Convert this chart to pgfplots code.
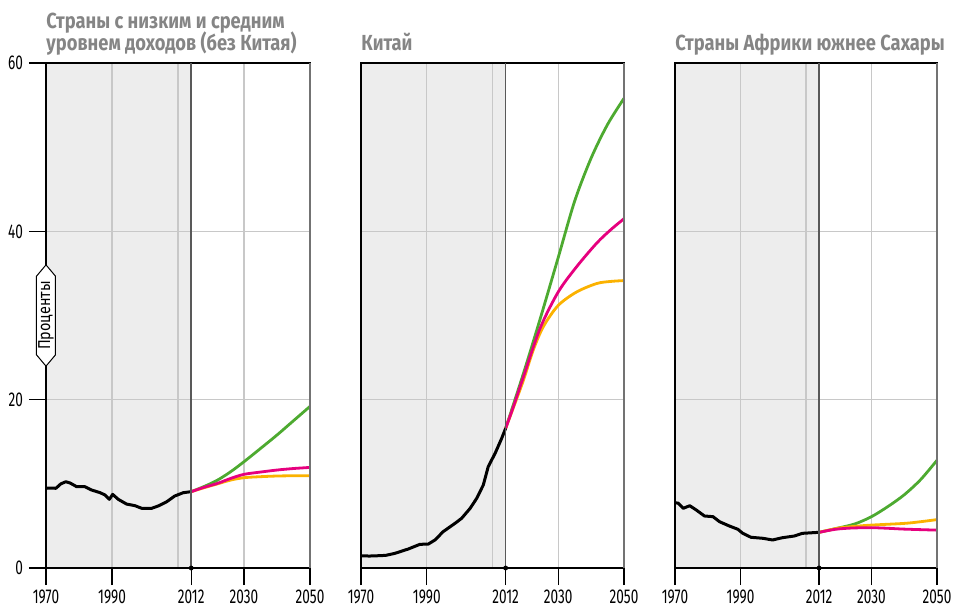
\documentclass[border=0pt]{standalone}
\usepackage{fontspec}
\setmainfont{Fira Sans}
\newfontfamily\narrowfont{Fira Sans}[FakeStretch=0.68]
\newfontfamily\titlefont{Fira Sans}[FakeStretch=0.84]
\usepackage{pgfplots}
\pgfplotsset{compat=1.18}
\usetikzlibrary{shapes.symbols}

\definecolor{bgshade}{HTML}{EDEDED}
\definecolor{gridc}{HTML}{C8C8C8}
\definecolor{titlegray}{HTML}{858585}
\definecolor{cgreen}{HTML}{4DAA30}
\definecolor{cpink}{HTML}{E6007E}
\definecolor{corange}{HTML}{FBB200}

% the "2012" divider sits at 2014 on the linear scale of the picture
\pgfplotsset{
  panel/.style={
    scale only axis, width=132pt, height=252.5pt,
    anchor=south west,
    xmin=1970, xmax=2050, ymin=0, ymax=60,
    set layers, clip=false,
    axis line style={black, line width=0.6pt},
    xtick={1970,1990,2014,2030,2050},
    xticklabels={1970,1990,2012,2030,2050},
    ytick={0,20,40,60},
    xtick pos=left, ytick pos=left,
    tick align=outside, major tick length=8.5pt,
    tick style={black, line width=0.6pt},
    xmajorgrids, ymajorgrids,
    grid style={gridc, line width=0.6pt},
    extra x ticks={2010}, extra x tick labels={},
    extra x tick style={major tick length=0pt},
    tick label style={font=\narrowfont\fontsize{10}{12}\selectfont},
    xticklabel style={yshift=1pt},
    /pgf/number format/assume math mode=true,
  },
  hist/.style={black, line width=1.5pt, line join=round},
  proj/.style={line width=1.4pt, smooth},
}

\newcommand{\panelbg}{%
  \begin{pgfonlayer}{axis background}
    \fill[bgshade] (axis cs:1970,0) rectangle (axis cs:2014,60);
  \end{pgfonlayer}}
\newcommand{\panelfg}{%
  \draw[black!65, line width=0.8pt] (axis cs:2014,0) -- (axis cs:2014,60);
  \draw[black!55, line width=1pt] (axis cs:2050,0) -- (axis cs:2050,60);
  \addplot[only marks, mark=*, mark size=1pt, black] coordinates {(2014,0)};}

\begin{document}
\begin{tikzpicture}

% --- panel 1
\begin{axis}[panel, name=p1, at={(0pt,0pt)},
  yticklabel style={xshift=0.5pt}]
\panelbg
\addplot[proj, cgreen] coordinates {(2014,9.07) (2018,9.7) (2022,10.45) (2026,11.45) (2030,12.63) (2035,14.2) (2040,15.8) (2045,17.5) (2050,19.2)};
\addplot[proj, corange] coordinates {(2014,9.07) (2018,9.55) (2022,10.0) (2026,10.45) (2030,10.73) (2035,10.85) (2040,10.93) (2045,10.96) (2050,10.97)};
\addplot[proj, cpink] coordinates {(2014,9.07) (2018,9.6) (2022,10.06) (2026,10.65) (2030,11.13) (2035,11.4) (2040,11.64) (2045,11.82) (2050,11.95)};
\addplot[hist] coordinates {(1970,9.47) (1971.5,9.5) (1973,9.47) (1974.5,10.0) (1976,10.25) (1977.3,10.1) (1979.3,9.66) (1981.8,9.66) (1983.8,9.27) (1986.4,8.95) (1987.9,8.67) (1989.2,8.16) (1990.2,8.75) (1991.9,8.16) (1994.4,7.6) (1997,7.4) (1999,7.09) (2002,7.09) (2004,7.37) (2006.6,7.88) (2009,8.55) (2011.6,8.95) (2014,9.07)};
\panelfg
\node[signal, signal to=east and west, signal pointer angle=80, rotate=90,
  draw=black, line width=0.5pt, fill=white, minimum height=9.5pt,
  inner xsep=2.5pt, inner ysep=0.5pt,
  font=\titlefont\fontsize{8.6}{10}\selectfont] at (axis cs:1970,30) {Проценты};
\end{axis}

% --- panel 2
\begin{axis}[panel, name=p2, at={(157.5pt,0pt)}, width=131.5pt,
  yticklabels={}, ytick style={draw=none}]
\panelbg
\addplot[proj, cgreen] coordinates {(2014,16.6) (2019.4,23.1) (2024.5,29.6) (2030,36.9) (2035,43.6) (2040,48.7) (2045,52.7) (2050,55.8)};
\addplot[proj, corange] coordinates {(2014,16.6) (2016.3,19.0) (2019.4,22.3) (2022.4,25.9) (2025.5,28.7) (2030,31.2) (2035.6,32.8) (2041.7,33.8) (2046,34.05) (2050,34.15)};
\addplot[proj, cpink] coordinates {(2014,16.6) (2016.3,19.1) (2019.4,22.7) (2024.5,28.5) (2030,32.8) (2035.6,35.8) (2041.7,38.6) (2046,40.2) (2050,41.5)};
\addplot[hist] coordinates {(1970,1.46) (1972.5,1.42) (1975.3,1.46) (1977.5,1.5) (1980.3,1.74) (1984.4,2.26) (1987.9,2.81) (1990.5,2.85) (1992.5,3.33) (1995,4.32) (1998.6,5.31) (2000.6,5.9) (2003.2,7.09) (2005.2,8.28) (2007.2,9.86) (2008.7,12.04) (2010.8,13.63) (2012.8,15.41) (2014,16.6)};
\panelfg
\end{axis}

% --- panel 3
\begin{axis}[panel, name=p3, at={(314.5pt,0pt)}, width=131pt,
  yticklabels={}, ytick style={draw=none}]
\panelbg
\addplot[proj, cgreen] coordinates {(2014,4.24) (2019.4,4.71) (2025,5.25) (2030,6.1) (2035,7.3) (2040,8.7) (2045,10.5) (2050,12.8)};
\addplot[proj, corange] coordinates {(2014,4.24) (2020,4.75) (2025,4.95) (2030,5.1) (2040,5.3) (2045,5.5) (2050,5.75)};
\addplot[proj, cpink] coordinates {(2014,4.24) (2019,4.6) (2024,4.75) (2030,4.79) (2035,4.72) (2040,4.62) (2050,4.5)};
\addplot[hist] coordinates {(1970,7.76) (1971,7.7) (1972.5,7.09) (1974.5,7.4) (1976.5,6.89) (1979,6.18) (1981.6,6.1) (1983.6,5.5) (1986.6,4.99) (1989.2,4.6) (1990.7,4.12) (1993.2,3.65) (1996.8,3.53) (1999.8,3.33) (2002.8,3.6) (2006.4,3.8) (2008.9,4.12) (2014,4.24)};
\panelfg
\end{axis}

% --- titles
\begin{scope}[every node/.style={anchor=base west, inner sep=0pt, text=titlegray,
    font=\titlefont\bfseries\fontsize{10.9}{12}\selectfont}]
\node at ([yshift=17.5pt]p1.north west) {Страны с низким и средним};
\node at ([yshift=6.5pt]p1.north west) {уровнем доходов (без Китая)};
\node at ([yshift=6.5pt]p2.north west) {Китай};
\node at ([yshift=6.5pt]p3.north west) {Страны Африки южнее Сахары};
\end{scope}

\pgfresetboundingbox
\useasboundingbox (-23pt,-19.5pt) rectangle (454pt,284pt);
\end{tikzpicture}
\end{document}
